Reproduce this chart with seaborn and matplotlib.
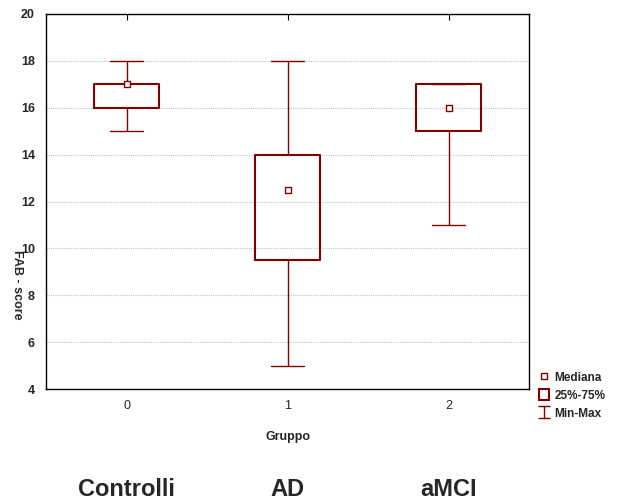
import numpy as np
import pandas as pd
import matplotlib
matplotlib.use("Agg")
import matplotlib.pyplot as plt
import matplotlib.transforms as mtransforms
from matplotlib.lines import Line2D
from matplotlib.patches import Patch
from matplotlib.path import Path
import seaborn as sns

gruppi = ['0', '1', '2']
nomi = ['Controlli', 'AD', 'aMCI']
minimo = [15, 5, 11]
q25 = [16, 9.5, 15]
mediana = [17, 12.5, 16]
q75 = [17, 14, 17]
massimo = [18, 18, 17]

rosso = '#800000'

# cinque numeri per gruppo -> con whis=(0, 100) i baffi vanno da min a max
righe = []
for g, a, b, c, d, e in zip(gruppi, minimo, q25, mediana, q75, massimo):
    for v in (a, b, c, d, e):
        righe.append({'Gruppo': g, 'FAB': v})
df = pd.DataFrame(righe)
df_med = pd.DataFrame({'Gruppo': gruppi, 'Mediana': mediana})

sns.set_theme(style='white')
plt.rcParams['font.family'] = ['Liberation Sans', 'DejaVu Sans']

fig = plt.figure(figsize=(6.17, 5.04), dpi=100)
ax = fig.add_axes([46 / 617, 1 - 389 / 504, 483 / 617, 375 / 504])

sns.boxplot(data=df, x='Gruppo', y='FAB', order=gruppi, ax=ax,
            width=0.4, whis=(0, 100), fill=False, color=rosso,
            boxprops={'linewidth': 1.5, 'color': rosso},
            whiskerprops={'linewidth': 1.0, 'color': rosso},
            capprops={'linewidth': 1.0, 'color': rosso},
            medianprops={'visible': False})
sns.pointplot(data=df_med, x='Gruppo', y='Mediana', order=gruppi, ax=ax,
              linestyle='none', marker='s', markersize=4.5, color=rosso,
              markerfacecolor='white', markeredgewidth=1.0, errorbar=None)

ax.set_xlim(-0.5, 2.5)
ax.set_ylim(4, 20)
ax.set_yticks(range(4, 21, 2))
ax.yaxis.grid(True, color='#c4c4c4', linestyle=(0, (1, 1)), linewidth=0.8)
ax.xaxis.grid(False)
ax.set_axisbelow(True)
for s in ax.spines.values():
    s.set_color('black')
    s.set_linewidth(1.0)

ax.tick_params(axis='x', direction='in', top=True, length=4, width=0.8,
               color='black', pad=8, labelsize=9)
ax.tick_params(axis='y', length=0, pad=8, labelsize=9)
plt.setp(ax.get_yticklabels(), fontweight='bold')

ax.set_xlabel('Gruppo', fontweight='bold', fontsize=9)
ax.xaxis.set_label_coords(0.5, (389 - 431) / 375)
ax.set_ylabel('FAB - score', fontweight='bold', fontsize=9, rotation=270,
              va='center')
ax.yaxis.set_label_coords(-0.06, 0.277)

trans = mtransforms.blended_transform_factory(ax.transData, fig.transFigure)
for i, nome in enumerate(nomi):
    ax.text(i, 1 - 490 / 504, nome, transform=trans, ha='center', va='center',
            fontsize=17, fontweight='bold', clip_on=False)

ibeam = Path([(-1, 1), (1, 1), (0, 1), (0, -1), (-1, -1), (1, -1)],
             [Path.MOVETO, Path.LINETO, Path.MOVETO, Path.LINETO,
              Path.MOVETO, Path.LINETO])
handles = [
    Line2D([], [], linestyle='none', marker='s', markersize=4.5,
           markerfacecolor='white', markeredgecolor=rosso, markeredgewidth=1.0),
    Patch(facecolor='white', edgecolor=rosso, linewidth=1.5),
    Line2D([], [], linestyle='none', marker=ibeam, markersize=9,
           markerfacecolor='none', markeredgecolor=rosso, markeredgewidth=1.0),
]
labels = ['Mediana', '25%-75%', 'Min-Max']
fig.legend(handles, labels, loc='upper left',
           bbox_to_anchor=(539 / 617, 1 - 371 / 504), frameon=False,
           prop={'weight': 'bold', 'size': 8.5}, handlelength=0.85,
           handleheight=1.1, handletextpad=0.45, labelspacing=0.45,
           borderpad=0, borderaxespad=0)

fig.savefig('out.png', dpi=100)
